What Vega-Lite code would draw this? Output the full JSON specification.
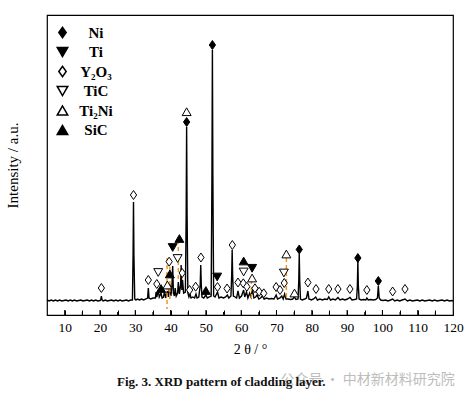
{
  "$schema": "https://vega.github.io/schema/vega-lite/v6.json",
  "width": 406,
  "height": 300,
  "autosize": "none",
  "padding": {"left": 47, "top": 15, "right": 14, "bottom": 83},
  "background": "white",
  "config": {
    "view": {"stroke": "black", "strokeWidth": 1.2},
    "font": "Liberation Serif",
    "axis": {"labelFont": "Liberation Serif", "titleFont": "Liberation Serif", "labelOverlap": false},
    "legend": {"labelFont": "Liberation Serif"}
  },
  "title": {
    "text": "Fig. 3.  XRD pattern of cladding layer.",
    "orient": "bottom",
    "anchor": "start",
    "frame": "group",
    "dx": 70,
    "offset": -11,
    "font": "Liberation Serif",
    "fontSize": 13,
    "fontWeight": "bold",
    "color": "#111111"
  },
  "encoding": {
    "x": {
      "field": "t", "type": "quantitative",
      "scale": {"domain": [5, 120], "nice": false, "zero": false},
      "axis": {
        "values": [10,15,20,25,30,35,40,45,50,55,60,65,70,75,80,85,90,95,100,105,110,115,120],
        "labelExpr": "datum.value % 10 === 0 ? datum.label : ''",
        "labelOverlap": false,
        "grid": false,
        "domain": false,
        "ticks": true,
        "tickSize": -5,
        "tickColor": "black",
        "tickWidth": 1,
        "tickOpacity": 1,
        "zindex": 1,
        "labelPadding": 10,
        "labelFont": "Liberation Serif",
        "labelFontSize": 13.5,
        "labelColor": "black",
        "labelFlush": false,
        "title": "2 θ / °",
        "titleFont": "Liberation Serif",
        "titleFontSize": 14,
        "titleFontWeight": "normal",
        "titleColor": "black",
        "titlePadding": 9
      }
    },
    "y": {
      "field": "i", "type": "quantitative",
      "scale": {"domain": [0, 300], "nice": false, "zero": false},
      "axis": {
        "labels": false, "ticks": false, "domain": false, "grid": false,
        "title": "Intensity / a.u.",
        "titleFont": "Liberation Serif",
        "titleFontSize": 15,
        "titleFontWeight": "normal",
        "titleColor": "black",
        "titlePadding": 27
      }
    }
  },
  "layer": [
    {
      "data": {"values": [
        {"t":5.0,"i":15},{"t":5.6,"i":14},{"t":6.2,"i":15},{"t":6.8,"i":14},{"t":7.4,"i":15},{"t":8.0,"i":14},{"t":8.6,"i":15},{"t":9.2,"i":14},{"t":9.8,"i":14.5},{"t":10.4,"i":15},
        {"t":11.0,"i":14},{"t":11.6,"i":15},{"t":12.2,"i":14},{"t":12.8,"i":15},{"t":13.4,"i":14},{"t":14.0,"i":14.5},{"t":14.6,"i":15},{"t":15.2,"i":14},{"t":15.8,"i":14.5},{"t":16.4,"i":15},
        {"t":17.0,"i":14},{"t":17.6,"i":15},{"t":18.2,"i":14},{"t":18.8,"i":15},{"t":19.4,"i":14},{"t":20.0,"i":14.5},{"t":20.2,"i":15},{"t":20.4,"i":19},{"t":20.6,"i":15},{"t":20.9,"i":14},
        {"t":21.5,"i":15},{"t":22.1,"i":14},{"t":22.7,"i":14.5},{"t":23.3,"i":15},{"t":23.9,"i":14},{"t":24.5,"i":15},{"t":25.1,"i":14},{"t":25.7,"i":15},{"t":26.3,"i":14},{"t":26.9,"i":14.5},
        {"t":27.5,"i":15},{"t":28.1,"i":14},{"t":28.7,"i":15},{"t":29.2,"i":15},{"t":29.38,"i":60},{"t":29.5,"i":113},{"t":29.62,"i":60},{"t":29.85,"i":16},{"t":30.2,"i":15},{"t":30.6,"i":16},
        {"t":31.2,"i":15},{"t":31.8,"i":16},{"t":32.4,"i":15},{"t":33.0,"i":16},{"t":33.5,"i":17},{"t":33.7,"i":27},{"t":33.9,"i":17},{"t":34.4,"i":16},{"t":35.0,"i":17},{"t":35.7,"i":17},
        {"t":35.9,"i":23},{"t":36.1,"i":18},{"t":36.5,"i":25},{"t":36.8,"i":18},{"t":37.3,"i":22},{"t":37.6,"i":17},{"t":38.0,"i":18},{"t":38.3,"i":24},{"t":38.6,"i":17},{"t":39.1,"i":24},
        {"t":39.4,"i":18},{"t":39.8,"i":31},{"t":40.1,"i":19},{"t":40.4,"i":30},{"t":40.6,"i":49},{"t":40.8,"i":22},{"t":41.1,"i":19},{"t":41.3,"i":27},{"t":41.6,"i":19},{"t":42.0,"i":22},
        {"t":42.2,"i":33},{"t":42.5,"i":21},{"t":42.85,"i":30},{"t":43.0,"i":50},{"t":43.2,"i":25},{"t":43.4,"i":35},{"t":43.7,"i":22},{"t":44.2,"i":23},{"t":44.42,"i":100},{"t":44.55,"i":188},
        {"t":44.68,"i":100},{"t":44.9,"i":22},{"t":45.2,"i":18},{"t":45.5,"i":21},{"t":45.8,"i":17},{"t":46.3,"i":18},{"t":46.8,"i":17},{"t":47.2,"i":21},{"t":47.5,"i":17},{"t":48.0,"i":18},
        {"t":48.4,"i":30},{"t":48.55,"i":50},{"t":48.7,"i":30},{"t":48.9,"i":18},{"t":49.4,"i":17},{"t":50.0,"i":20},{"t":50.4,"i":17},{"t":51.0,"i":18},{"t":51.5,"i":19},{"t":51.72,"i":140},
        {"t":51.85,"i":265},{"t":51.98,"i":140},{"t":52.2,"i":19},{"t":52.6,"i":18},{"t":53.3,"i":23},{"t":53.7,"i":17},{"t":54.3,"i":18},{"t":55.0,"i":17},{"t":55.6,"i":18},{"t":56.1,"i":20},
        {"t":56.5,"i":17},{"t":57.1,"i":19},{"t":57.32,"i":40},{"t":57.45,"i":65},{"t":57.58,"i":40},{"t":57.8,"i":19},{"t":58.3,"i":18},{"t":58.7,"i":17},{"t":59.1,"i":24},{"t":59.5,"i":17},
        {"t":60.1,"i":19},{"t":60.7,"i":25},{"t":61.0,"i":18},{"t":61.5,"i":23},{"t":61.9,"i":17},{"t":62.4,"i":22},{"t":62.8,"i":18},{"t":63.2,"i":26},{"t":63.6,"i":17},{"t":64.1,"i":18},
        {"t":64.5,"i":20},{"t":65.0,"i":16},{"t":65.5,"i":17},{"t":66.0,"i":19},{"t":66.5,"i":16},{"t":67.2,"i":17},{"t":67.9,"i":16},{"t":68.6,"i":16.5},{"t":69.3,"i":16},{"t":69.9,"i":20},
        {"t":70.3,"i":16},{"t":71.0,"i":17},{"t":71.5,"i":19},{"t":71.9,"i":16},{"t":72.3,"i":21},{"t":72.7,"i":16},{"t":73.3,"i":16},{"t":74.0,"i":15.5},{"t":74.6,"i":16},{"t":75.1,"i":18},
        {"t":75.5,"i":15.5},{"t":76.1,"i":16},{"t":76.32,"i":35},{"t":76.45,"i":61},{"t":76.58,"i":35},{"t":76.8,"i":16},{"t":77.3,"i":15},{"t":78.0,"i":16},{"t":78.5,"i":17},{"t":78.9,"i":24},
        {"t":79.2,"i":16},{"t":79.9,"i":15},{"t":80.5,"i":16},{"t":81.1,"i":18},{"t":81.6,"i":15},{"t":82.3,"i":16},{"t":83.0,"i":15},{"t":83.7,"i":16},{"t":84.4,"i":15.5},{"t":84.8,"i":18},
        {"t":85.3,"i":15},{"t":86.0,"i":16},{"t":86.7,"i":15},{"t":87.4,"i":17.5},{"t":88.0,"i":15},{"t":88.7,"i":16},{"t":89.4,"i":15},{"t":90.1,"i":16},{"t":90.8,"i":17.5},{"t":91.4,"i":15},
        {"t":92.1,"i":15.5},{"t":92.7,"i":16},{"t":92.92,"i":30},{"t":93.05,"i":54},{"t":93.18,"i":30},{"t":93.4,"i":16},{"t":94.0,"i":15},{"t":94.7,"i":15.5},{"t":95.3,"i":15},{"t":95.6,"i":17},
        {"t":96.0,"i":15},{"t":96.7,"i":15.5},{"t":97.4,"i":15},{"t":98.1,"i":15.5},{"t":98.6,"i":17},{"t":98.85,"i":29},{"t":99.1,"i":17},{"t":99.5,"i":15},{"t":100.2,"i":14.5},{"t":100.9,"i":15},
        {"t":101.6,"i":14},{"t":102.3,"i":15},{"t":102.9,"i":16},{"t":103.5,"i":14},{"t":104.2,"i":15},{"t":104.9,"i":14},{"t":105.6,"i":15},{"t":106.4,"i":16},{"t":107.1,"i":14},{"t":107.8,"i":15},
        {"t":108.5,"i":14},{"t":109.2,"i":14.5},{"t":109.9,"i":15},{"t":110.6,"i":14},{"t":111.3,"i":15},{"t":112.0,"i":14},{"t":112.7,"i":14.5},{"t":113.4,"i":15},{"t":114.1,"i":14},{"t":114.8,"i":15},
        {"t":115.5,"i":14},{"t":116.2,"i":14.5},{"t":116.9,"i":15},{"t":117.6,"i":14},{"t":118.3,"i":15},{"t":119.0,"i":14},{"t":119.7,"i":14.5},{"t":120.0,"i":14}
      ]},
      "mark": {"type": "line", "color": "black", "strokeWidth": 1.4}
    },
    {
      "data": {"values": [
        {"t":10,"i":0,"i2":5},{"t":15,"i":0,"i2":3},{"t":20,"i":0,"i2":5},{"t":25,"i":0,"i2":3},{"t":30,"i":0,"i2":5},{"t":35,"i":0,"i2":3},
        {"t":40,"i":0,"i2":5},{"t":45,"i":0,"i2":3},{"t":50,"i":0,"i2":5},{"t":55,"i":0,"i2":3},{"t":60,"i":0,"i2":5},{"t":65,"i":0,"i2":3},
        {"t":70,"i":0,"i2":5},{"t":75,"i":0,"i2":3},{"t":80,"i":0,"i2":5},{"t":85,"i":0,"i2":3},{"t":90,"i":0,"i2":5},{"t":95,"i":0,"i2":3},
        {"t":100,"i":0,"i2":5},{"t":105,"i":0,"i2":3},{"t":110,"i":0,"i2":5},{"t":115,"i":0,"i2":3}
      ]},
      "mark": {"type": "rule", "color": "black", "strokeWidth": 1},
      "encoding": {
        "y2": {"field": "i2"}
      }
    },
    {
      "data": {"values": [
        {"t": 39.0, "i": 57, "i2": 6},
        {"t": 39.8, "i": 55, "i2": 15},
        {"t": 42.2, "i": 75, "i2": 33},
        {"t": 62.9, "i": 35, "i2": 15},
        {"t": 72.8, "i": 57, "i2": 15}
      ]},
      "mark": {"type": "rule", "color": "#f7931e", "strokeWidth": 1.5, "strokeDash": [4, 3]},
      "encoding": {
        "y2": {"field": "i2"}
      }
    },
    {
      "data": {"values": [
        {"t":44.55,"i":193,"p":"Ni"},{"t":51.85,"i":270,"p":"Ni"},{"t":76.45,"i":65.5,"p":"Ni"},{"t":93.05,"i":57,"p":"Ni"},{"t":98.85,"i":34,"p":"Ni"},
        {"t":40.6,"i":67.5,"p":"Ti"},{"t":53.2,"i":38,"p":"Ti"},{"t":63.1,"i":46.7,"p":"Ti"},
        {"t":36.5,"i":42.5,"p":"TiC"},{"t":42.0,"i":56.5,"p":"TiC"},{"t":60.7,"i":43,"p":"TiC"},{"t":72.1,"i":42,"p":"TiC"},
        {"t":39.1,"i":30,"p":"Ti₂Ni"},{"t":44.55,"i":203.3,"p":"Ti₂Ni"},{"t":63.1,"i":37,"p":"Ti₂Ni"},{"t":72.8,"i":61,"p":"Ti₂Ni"},{"t":75.1,"i":22,"p":"Ti₂Ni"},
        {"t":37.3,"i":26.5,"p":"SiC"},{"t":39.8,"i":41,"p":"SiC"},{"t":42.5,"i":76.5,"p":"SiC"},{"t":50.0,"i":24.5,"p":"SiC"},{"t":60.7,"i":54,"p":"SiC"},
        {"t":20.4,"i":27,"p":"Y₂O₃"},{"t":29.5,"i":120,"p":"Y₂O₃"},{"t":33.7,"i":35,"p":"Y₂O₃"},{"t":36.1,"i":31,"p":"Y₂O₃"},{"t":39.6,"i":53.3,"p":"Y₂O₃"},
        {"t":43.3,"i":42,"p":"Y₂O₃"},{"t":45.4,"i":25,"p":"Y₂O₃"},{"t":47.1,"i":28.3,"p":"Y₂O₃"},{"t":48.6,"i":57.5,"p":"Y₂O₃"},{"t":53.3,"i":28,"p":"Y₂O₃"},
        {"t":56.0,"i":26.5,"p":"Y₂O₃"},{"t":57.5,"i":70,"p":"Y₂O₃"},{"t":59.1,"i":32.5,"p":"Y₂O₃"},{"t":60.6,"i":31.7,"p":"Y₂O₃"},{"t":61.6,"i":28.3,"p":"Y₂O₃"},
        {"t":63.9,"i":26.7,"p":"Y₂O₃"},{"t":65.1,"i":23.3,"p":"Y₂O₃"},{"t":66.4,"i":21.7,"p":"Y₂O₃"},{"t":69.9,"i":28,"p":"Y₂O₃"},{"t":71.0,"i":25,"p":"Y₂O₃"},
        {"t":72.2,"i":32,"p":"Y₂O₃"},{"t":78.9,"i":32.5,"p":"Y₂O₃"},{"t":81.2,"i":26,"p":"Y₂O₃"},{"t":84.8,"i":26,"p":"Y₂O₃"},{"t":87.4,"i":26,"p":"Y₂O₃"},
        {"t":90.8,"i":26,"p":"Y₂O₃"},{"t":95.6,"i":25,"p":"Y₂O₃"},{"t":102.9,"i":23.5,"p":"Y₂O₃"},{"t":106.4,"i":26,"p":"Y₂O₃"}
      ]},
      "mark": {"type": "point", "filled": true, "stroke": "black", "strokeWidth": 1, "size": 80, "opacity": 1},
      "encoding": {
        "shape": {
          "field": "p", "type": "nominal",
          "scale": {
            "domain": ["Ni", "Ti", "Y₂O₃", "TiC", "Ti₂Ni", "SiC"],
            "range": ["M-0.7,0L0,-1L0.7,0L0,1Z", "triangle-down", "M-0.7,0L0,-1L0.7,0L0,1Z", "triangle-down", "triangle-up", "triangle-up"]
          },
          "legend": {
            "title": null, "orient": "none", "legendX": 8, "legendY": 10, "padding": 0,
            "symbolSize": 110,
            "labelFont": "Liberation Serif", "labelFontSize": 15, "labelFontWeight": "bold", "labelColor": "black",
            "labelAlign": "center", "labelOffset": 26, "rowPadding": 2.5,
            "encode": {"symbols": {"update": {"stroke": {"value": "black"}, "strokeWidth": {"value": 1}, "opacity": {"value": 1}}}}
          }
        },
        "fill": {
          "field": "p", "type": "nominal",
          "scale": {
            "domain": ["Ni", "Ti", "Y₂O₃", "TiC", "Ti₂Ni", "SiC"],
            "range": ["black", "black", "white", "white", "white", "black"]
          },
          "legend": {
            "title": null, "orient": "none", "legendX": 8, "legendY": 10, "padding": 0,
            "symbolSize": 110,
            "labelFont": "Liberation Serif", "labelFontSize": 15, "labelFontWeight": "bold", "labelColor": "black",
            "labelAlign": "center", "labelOffset": 26, "rowPadding": 2.5,
            "encode": {"symbols": {"update": {"stroke": {"value": "black"}, "strokeWidth": {"value": 1}, "opacity": {"value": 1}}}}
          }
        }
      }
    },
    {
      "data": {"values": [{"t": 95.8, "i": -65, "w": "公众号 · 中材新材料研究院"}]},
      "mark": {"type": "text", "font": "Noto Sans CJK SC", "fontSize": 14, "color": "#bdbdbd", "align": "center", "baseline": "middle"},
      "encoding": {
        "text": {"field": "w", "type": "nominal"}
      }
    }
  ]
}
